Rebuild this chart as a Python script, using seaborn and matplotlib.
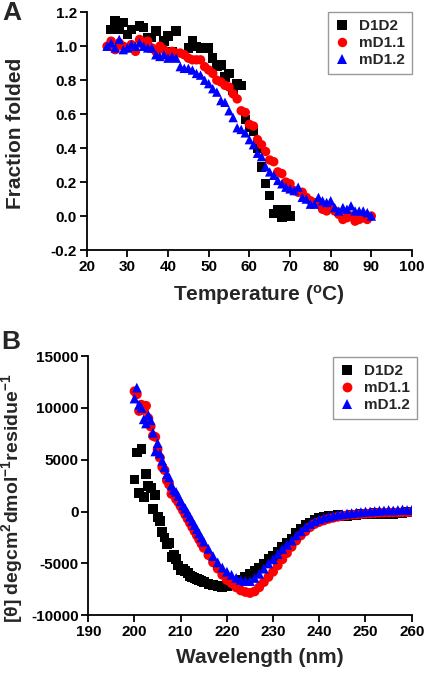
import numpy as np
import pandas as pd
import matplotlib
matplotlib.use("Agg")
import matplotlib.pyplot as plt
import seaborn as sns

# ---------------- Panel A data (thermal melt) ----------------
temp_d1d2 = [26, 27, 28, 29, 30, 31, 33, 34, 35, 36, 37, 39, 40, 41, 42, 45, 46, 47, 48,
             49, 50, 51, 52, 53, 54, 55, 56, 57, 58, 59, 60, 61, 62, 63, 64, 65, 66, 67,
             68, 69, 70]
frac_d1d2 = [1.10, 1.15, 1.10, 1.14, 1.07, 1.10, 1.12, 1.11, 1.05, 1.05, 1.09, 1.03, 1.06,
             0.97, 1.09, 0.99, 1.03, 1.00, 0.99, 0.99, 0.99, 0.93, 0.88, 0.89, 0.82, 0.84,
             0.74, 0.78, 0.77, 0.57, 0.52, 0.50, 0.40, 0.29, 0.19, 0.12, 0.015, 0.04,
             -0.005, 0.04, 0.00]

temp_m = [25, 26, 27, 28, 29, 30, 31, 32, 33, 34, 35, 36, 37, 38, 39, 40, 41, 42, 43, 44,
          45, 46, 47, 48, 49, 50, 51, 52, 53, 54, 55, 56, 57, 58, 59, 60, 61, 62, 63, 64,
          65, 66, 67, 68, 69, 70, 71, 72, 73, 74, 75, 76, 77, 78, 79, 80, 81, 82, 83, 84,
          85, 86, 87, 88, 89, 90]
frac_md11 = [1.00, 1.03, 0.98, 1.02, 1.00, 0.99, 1.01, 0.97, 1.04, 1.01, 1.03, 0.99, 0.97,
             1.00, 0.98, 0.96, 0.97, 0.96, 0.96, 0.95, 0.93, 0.92, 0.92, 0.92, 0.88, 0.86,
             0.84, 0.80, 0.79, 0.77, 0.76, 0.72, 0.69, 0.62, 0.61, 0.54, 0.53, 0.45, 0.42,
             0.38, 0.33, 0.32, 0.26, 0.25, 0.20, 0.19, 0.15, 0.14, 0.14, 0.11, 0.09, 0.08,
             0.07, 0.04, 0.03, 0.05, 0.03, 0.01, -0.02, -0.01, 0.00, -0.03, -0.02, -0.01,
             -0.02, 0.00]
frac_md12 = [1.00, 1.02, 0.99, 1.04, 0.98, 0.99, 1.01, 1.00, 1.02, 1.00, 0.99, 0.99, 0.95,
             0.94, 0.95, 0.93, 0.94, 0.93, 0.88, 0.87, 0.87, 0.86, 0.84, 0.83, 0.80, 0.78,
             0.75, 0.73, 0.68, 0.67, 0.62, 0.58, 0.52, 0.51, 0.49, 0.45, 0.42, 0.37, 0.35,
             0.29, 0.26, 0.24, 0.21, 0.19, 0.17, 0.16, 0.15, 0.17, 0.11, 0.10, 0.07, 0.07,
             0.11, 0.09, 0.08, 0.09, 0.05, 0.03, 0.05, 0.04, 0.06, 0.03, 0.03, 0.03, 0.02,
             0.00]

# ---------------- Panel B data (CD spectra) ----------------
wl = [200.0, 200.5, 201.0, 201.5, 202.0, 202.5, 203.0, 203.5, 204.0, 204.5, 205.0, 205.5,
      206.0, 206.5, 207.0, 207.5, 208.0, 208.5, 209.0, 209.5, 210.0, 210.5, 211.0, 211.5,
      212.0, 212.5, 213.0, 213.5, 214.0, 214.5, 215.0, 216, 217, 218, 219, 220, 221, 222,
      223, 224, 225, 226, 227, 228, 229, 230, 231, 232, 233, 234, 235, 236, 237, 238, 239,
      240, 241, 242, 243, 244, 245, 246, 247, 248, 249, 250, 251, 252, 253, 254, 255, 256,
      257, 258, 259, 260]
cd_d1d2 = [3100, 5700, 1800, 6000, 1400, 3600, 2500, 2300, 250, 1600, -500, -900,
           -2000, -2500, -3100, -3000, -4400, -4200, -4600, -5200, -5600, -5500, -5700, -5900,
           -6200, -6300, -6400, -6500, -6600, -6700, -6800, -7000, -7100, -7200, -7250, -7200,
           -7100, -6900, -6600, -6300, -6000, -5700, -5400, -5000, -4600, -4300, -3900, -3400,
           -3000, -2600, -2100, -1700, -1300, -1050, -850, -650, -550, -450, -400, -350, -400,
           -400, -350, -300, -250, -200, -200, -150, -200, -250, -250, -200, -150, -100, -50, 0]
cd_md11 = [11600, 11300, 9700, 10300, 9800, 10200, 9000, 8200, 7300, 7200, 6000, 5200,
           4300, 4000, 3000, 2600, 1700, 1700, 1200, 900, 500, 100, -300, -700,
           -1100, -1500, -1900, -2300, -2700, -3100, -3500, -4200, -4900, -5500, -6100, -6600,
           -6900, -7300, -7600, -7750, -7850, -7700, -7300, -6800, -6300, -5800, -5200, -4600,
           -4000, -3400, -2800, -2300, -1900, -1500, -1200, -1000, -850, -700, -600, -500, -420,
           -350, -300, -280, -250, -200, -180, -150, -120, -100, -100, -80, -80, -60, -50, -50]
cd_md12 = [10900, 11950, 10300, 10000, 8900, 8500, 9300, 8800, 7600, 5800, 6600, 5600,
           4900, 4300, 3600, 3300, 2500, 2100, 1900, 1500, 1000, 600, 300, -100,
           -500, -900, -1300, -1700, -2100, -2500, -2900, -3600, -4300, -4900, -5400, -5800,
           -6100, -6400, -6600, -6700, -6700, -6400, -6000, -5500, -5000, -4600, -4100, -3600,
           -3200, -2800, -2300, -1900, -1500, -1200, -950, -750, -600, -500, -400, -300, -250,
           -200, -150, -100, -50, 0, 0, 50, 100, 100, 150, 100, 150, 200, 150, 150]

samples = ["D1D2", "mD1.1", "mD1.2"]
palette = {"D1D2": "#000000", "mD1.1": "#FF0000", "mD1.2": "#0000FF"}
markers = {"D1D2": "s", "mD1.1": "o", "mD1.2": "^"}

df_a = pd.concat([
    pd.DataFrame({"x": temp_d1d2, "y": frac_d1d2, "Sample": "D1D2"}),
    pd.DataFrame({"x": temp_m, "y": frac_md11, "Sample": "mD1.1"}),
    pd.DataFrame({"x": temp_m, "y": frac_md12, "Sample": "mD1.2"}),
], ignore_index=True)
df_b = pd.concat([
    pd.DataFrame({"x": wl, "y": cd_d1d2, "Sample": "D1D2"}),
    pd.DataFrame({"x": wl, "y": cd_md11, "Sample": "mD1.1"}),
    pd.DataFrame({"x": wl, "y": cd_md12, "Sample": "mD1.2"}),
], ignore_index=True)

sns.set_style("ticks")
plt.rcParams["font.family"] = ["Liberation Sans", "DejaVu Sans"]
plt.rcParams["font.weight"] = "bold"
plt.rcParams["axes.labelweight"] = "bold"
plt.rcParams["axes.unicode_minus"] = False
plt.rcParams["mathtext.fontset"] = "custom"
plt.rcParams["mathtext.rm"] = "Liberation Sans:bold"
plt.rcParams["mathtext.bf"] = "Liberation Sans:bold"
plt.rcParams["mathtext.it"] = "Liberation Sans:bold"

W, H = 425, 673
fig = plt.figure(figsize=(W / 100, H / 100), dpi=100)
ax_a = fig.add_axes([86.7 / W, 1 - 250 / H, (412 - 86.7) / W, (250 - 12.3) / H])
ax_b = fig.add_axes([88.3 / W, 1 - 615.3 / H, (411.7 - 88.3) / W, (615.3 - 356) / H])


def style_axes(ax):
    for s in ["top", "right"]:
        ax.spines[s].set_visible(False)
    for s in ["left", "bottom"]:
        ax.spines[s].set_linewidth(1.3)
        ax.spines[s].set_color("black")
    ax.tick_params(axis="both", direction="out", length=5, width=1.3, colors="black",
                   labelsize=11, pad=2)
    for lab in ax.get_xticklabels() + ax.get_yticklabels():
        lab.set_fontweight("bold")


def draw(ax, df, size):
    sns.scatterplot(data=df, x="x", y="y", hue="Sample", style="Sample",
                    hue_order=samples, style_order=samples,
                    palette=palette, markers=markers, s=size, linewidth=0,
                    edgecolor="none", ax=ax, legend=True)


draw(ax_a, df_a, 46)
draw(ax_b, df_b, 50)

ax_a.set_xlim(20, 100)
ax_a.set_ylim(-0.2, 1.2)
ax_a.set_xticks(np.arange(20, 101, 10))
ax_a.set_yticks(np.arange(-0.2, 1.21, 0.2))
ax_a.set_yticklabels(["-0.2", "0.0", "0.2", "0.4", "0.6", "0.8", "1.0", "1.2"])
ax_a.set_xlabel(r"Temperature ($^{\mathrm{o}}$C)", fontsize=15, fontweight="bold")
ax_a.set_ylabel("Fraction folded", fontsize=15, fontweight="bold")

ax_b.set_xlim(190, 260)
ax_b.set_ylim(-10000, 15000)
ax_b.set_xticks(np.arange(190, 261, 10))
ax_b.set_yticks(np.arange(-10000, 15001, 5000))
ax_b.set_xlabel("Wavelength (nm)", fontsize=15, fontweight="bold")
ax_b.set_ylabel(r"[θ] degcm$^{\mathrm{2}}$dmol$^{\mathrm{-1}}$residue$^{\mathrm{-1}}$",
                fontsize=14, fontweight="bold")

for ax in (ax_a, ax_b):
    style_axes(ax)

ax_a.xaxis.set_label_coords(0.53, -0.14)
ax_a.yaxis.set_label_coords(-0.19, 0.49)
ax_b.xaxis.set_label_coords(0.53, -0.125)
ax_b.yaxis.set_label_coords(-0.195, 0.45)


def make_legend(ax, anchor):
    handles, labels = ax.get_legend_handles_labels()
    leg = ax.legend(handles, labels, loc="upper right", bbox_to_anchor=anchor,
                    bbox_transform=fig.transFigure, frameon=True, fancybox=False,
                    edgecolor="#808080", fontsize=11, handlelength=1.0,
                    handletextpad=0.6, borderpad=0.45, labelspacing=0.2,
                    borderaxespad=0, markerscale=1.0)
    leg.get_frame().set_linewidth(1.0)
    for t in leg.get_texts():
        t.set_fontweight("bold")
    return leg


make_legend(ax_a, (412 / W, 1 - 12 / H))
make_legend(ax_b, (417 / W, 1 - 357 / H))

fig.text(12 / W, 1 - 13 / H, "A", fontsize=19, fontweight="bold", ha="center", va="center")
fig.text(11 / W, 1 - 342 / H, "B", fontsize=19, fontweight="bold", ha="center", va="center")

fig.savefig("out.png", dpi=100)
